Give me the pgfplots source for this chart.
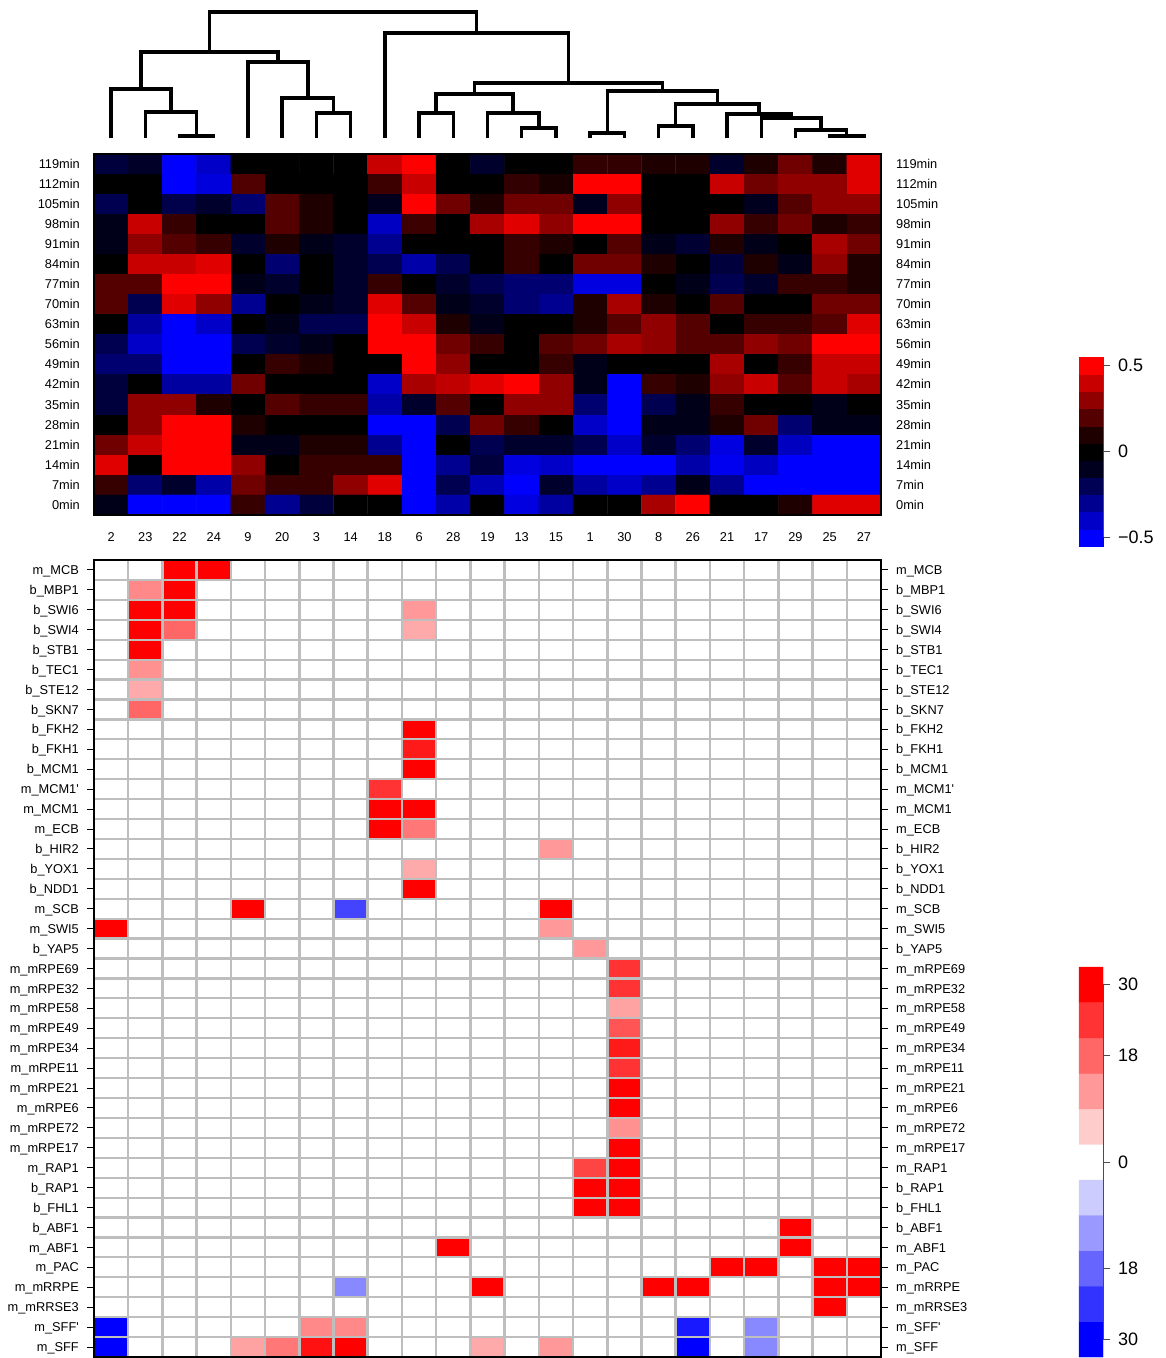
\documentclass[border=0pt]{standalone}
\usepackage{fontspec}
\setmainfont{Liberation Sans}
\usepackage{pgfplots}
\pgfplotsset{compat=1.18}
\definecolor{rgray}{RGB}{190,190,190}
\newcommand\lbl{\fontsize{12.8pt}{15pt}\selectfont}
\newcommand\cbl{\fontsize{18pt}{21pt}\selectfont}
\pgfplotsset{
  dg/.style={black, line width=3.4pt, mark=none, line join=miter},
  box/.style={scale only axis, anchor=north west, width=787pt, xmin=-0.5, xmax=22.5, y dir=reverse},
}
\begin{document}
\begin{tikzpicture}
\useasboundingbox (0pt,0pt) rectangle (1166pt,-1358pt);

% ---------- dendrogram ----------
\begin{axis}[at={(94pt,0pt)}, box, height=154pt, ymin=0, ymax=154, hide axis, clip=false]
\addplot[dg] coordinates {(2,138)(2,136)(3,136)(3,138)};
\addplot[dg] coordinates {(1,138)(1,112)(2.5,112)(2.5,136)};
\addplot[dg] coordinates {(0,138)(0,89)(1.75,89)(1.75,112)};
\addplot[dg] coordinates {(6,138)(6,113)(7,113)(7,138)};
\addplot[dg] coordinates {(5,138)(5,98)(6.5,98)(6.5,113)};
\addplot[dg] coordinates {(4,138)(4,62)(5.75,62)(5.75,98)};
\addplot[dg] coordinates {(0.875,89)(0.875,52)(4.875,52)(4.875,62)};
\addplot[dg] coordinates {(9,138)(9,113)(10,113)(10,138)};
\addplot[dg] coordinates {(12,138)(12,128)(13,128)(13,138)};
\addplot[dg] coordinates {(11,138)(11,113)(12.5,113)(12.5,128)};
\addplot[dg] coordinates {(9.5,113)(9.5,94)(11.75,94)(11.75,113)};
\addplot[dg] coordinates {(14,138)(14,133)(15,133)(15,138)};
\addplot[dg] coordinates {(16,138)(16,126)(17,126)(17,138)};
\addplot[dg] coordinates {(21,138)(21,136)(22,136)(22,138)};
\addplot[dg] coordinates {(20,138)(20,130)(21.5,130)(21.5,136)};
\addplot[dg] coordinates {(19,138)(19,118)(20.75,118)(20.75,130)};
\addplot[dg] coordinates {(18,138)(18,114)(19.875,114)(19.875,118)};
\addplot[dg] coordinates {(16.5,126)(16.5,104)(18.9375,104)(18.9375,114)};
\addplot[dg] coordinates {(14.5,133)(14.5,91)(17.71875,91)(17.71875,104)};
\addplot[dg] coordinates {(10.625,94)(10.625,83)(16.109,83)(16.109,91)};
\addplot[dg] coordinates {(8,138)(8,33)(13.367,33)(13.367,83)};
\addplot[dg] coordinates {(2.875,52)(2.875,12)(10.684,12)(10.684,33)};
\end{axis}

% ---------- top heatmap ----------
\begin{axis}[at={(94pt,-154pt)}, box, height=361pt, ymin=-0.5, ymax=17.5,
  axis on top, axis line style={line width=2.5pt},
  colormap={rbk}{rgb255=(0,0,255) rgb255=(0,0,0) rgb255=(255,0,0)},
  point meta min=-255, point meta max=255,
  xtick={0,...,22}, xticklabels={2,23,22,24,9,20,3,14,18,6,28,19,13,15,1,30,8,26,21,17,29,25,27},
  ytick={0,...,17}, yticklabels={119min,112min,105min,98min,91min,84min,77min,70min,63min,56min,49min,42min,35min,28min,21min,14min,7min,0min},
  major tick length=0pt, tick label style={font=\lbl, inner sep=0pt},
  yticklabel style={anchor=base east, xshift=-14pt, yshift=-4.3pt},
  xticklabel style={anchor=north, yshift=-17pt}]
\addplot[matrix plot*, mesh/cols=23, point meta=explicit]
 table[header=false, row sep=\\, x expr={\coordindex-23*floor((\coordindex+0.5)/23)}, y expr={floor((\coordindex+0.5)/23)}, meta index=0] {
-60\\ -40\\ -255\\ -200\\ 0\\  0\\ 0\\ 0\\ 200\\ 255\\  0\\ -45\\ 0\\ 0\\ 50\\  50\\ 30\\ 30\\ -45\\ 30\\  112\\ 30\\ 224\\
0\\ 0\\ -255\\ -220\\ 80\\  0\\ 0\\ 0\\ 60\\ 200\\  0\\ 0\\ 50\\ 25\\ 255\\  255\\ 0\\ 0\\ 200\\ 112\\  144\\ 144\\ 224\\
-80\\ 0\\ -75\\ -45\\ -112\\  85\\ 30\\ 0\\ -30\\ 255\\  112\\ 30\\ 112\\ 112\\ -30\\  144\\ 0\\ 0\\ 0\\ -30\\  85\\ 144\\ 144\\
-25\\ 200\\ 55\\ 0\\ 0\\  85\\ 30\\ 0\\ -195\\ 60\\  0\\ 168\\ 224\\ 144\\ 255\\  255\\ 0\\ 0\\ 144\\ 55\\  112\\ 30\\ 55\\
-25\\ 144\\ 85\\ 55\\ -45\\  30\\ -25\\ -45\\ -144\\ 0\\  0\\ 0\\ 55\\ 30\\ 0\\  85\\ -25\\ -50\\ 30\\ -25\\  0\\ 168\\ 112\\
0\\ 200\\ 200\\ 224\\ 0\\  -112\\ 0\\ -45\\ -80\\ -168\\  -80\\ 0\\ 55\\ 0\\ 112\\  112\\ 30\\ 0\\ -60\\ 30\\  -25\\ 144\\ 30\\
85\\ 85\\ 255\\ 255\\ -25\\  -45\\ 0\\ -45\\ 55\\ 0\\  -45\\ -80\\ -112\\ -112\\ -224\\  -224\\ 0\\ -25\\ -80\\ -45\\  55\\ 55\\ 30\\
85\\ -80\\ 224\\ 144\\ -144\\  0\\ -25\\ -45\\ 224\\ 85\\  -25\\ -45\\ -112\\ -144\\ 30\\  168\\ 30\\ 0\\ 85\\ 0\\  0\\ 112\\ 112\\
0\\ -160\\ -255\\ -200\\ 0\\  -25\\ -80\\ -80\\ 255\\ 200\\  30\\ -25\\ 0\\ 0\\ 30\\  85\\ 144\\ 85\\ 0\\ 55\\  55\\ 85\\ 224\\
-80\\ -200\\ -255\\ -255\\ -80\\  -45\\ -25\\ 0\\ 255\\ 255\\  112\\ 55\\ 0\\ 85\\ 112\\  168\\ 144\\ 85\\ 85\\ 144\\  112\\ 255\\ 255\\
-112\\ -112\\ -255\\ -255\\ 0\\  55\\ 30\\ 0\\ 0\\ 255\\  144\\ 0\\ 0\\ 55\\ -25\\  0\\ 0\\ 0\\ 168\\ 0\\  55\\ 200\\ 200\\
-60\\ 0\\ -160\\ -160\\ 112\\  0\\ 0\\ 0\\ -200\\ 168\\  192\\ 224\\ 255\\ 144\\ -25\\  -255\\ 55\\ 30\\ 144\\ 200\\  85\\ 200\\ 168\\
-60\\ 144\\ 144\\ 30\\ 0\\  85\\ 55\\ 55\\ -168\\ -45\\  85\\ 0\\ 144\\ 144\\ -112\\  -255\\ -80\\ -25\\ 55\\ 0\\  0\\ -25\\ 0\\
0\\ 144\\ 255\\ 255\\ 30\\  0\\ 0\\ 0\\ -255\\ -255\\  -80\\ 112\\ 55\\ 0\\ -200\\  -255\\ -25\\ -25\\ 30\\ 112\\  -112\\ -25\\ -25\\
112\\ 200\\ 255\\ 255\\ -25\\  -25\\ 30\\ 30\\ -144\\ -255\\  0\\ -80\\ -45\\ -45\\ -80\\  -200\\ -45\\ -112\\ -224\\ -45\\  -192\\ -255\\ -255\\
224\\ 0\\ 255\\ 255\\ 144\\  0\\ 55\\ 55\\ 55\\ -255\\  -144\\ -60\\ -224\\ -200\\ -255\\  -255\\ -255\\ -168\\ -240\\ -192\\  -255\\ -255\\ -255\\
55\\ -112\\ -45\\ -168\\ 112\\  55\\ 55\\ 144\\ 224\\ -255\\  -80\\ -180\\ -255\\ -45\\ -160\\  -200\\ -144\\ -25\\ -144\\ -255\\  -255\\ -255\\ -255\\
-25\\ -255\\ -255\\ -255\\ 55\\  -144\\ -60\\ 0\\ 0\\ -255\\  -168\\ 0\\ -224\\ -160\\ 0\\  0\\ 168\\ 255\\ 0\\ 0\\  30\\ 224\\ 224\\
};
\end{axis}
\begin{axis}[at={(94pt,-154pt)}, box, height=361pt, ymin=-0.5, ymax=17.5,
  hide x axis, axis y line*=right, y axis line style={draw=none},
  ytick={0,...,17}, yticklabels={119min,112min,105min,98min,91min,84min,77min,70min,63min,56min,49min,42min,35min,28min,21min,14min,7min,0min},
  major tick length=0pt, yticklabel style={font=\lbl, inner sep=0pt, anchor=base west, xshift=15pt, yshift=-4.3pt}]
\end{axis}

% ---------- bottom heatmap ----------
\begin{axis}[at={(94pt,-560pt)}, box, height=797pt, ymin=-0.5, ymax=39.5,
  axis on top, axis line style={line width=2.5pt},
  colormap={bwr}{rgb255=(0,0,255) rgb255=(255,255,255) rgb255=(255,0,0)},
  point meta min=-30, point meta max=30,
  xtick={0.5,1.5,...,21.5}, xticklabels={}, xtick pos=left, xmajorgrids,
  major grid style={rgray, line width=2.5pt},
  minor ytick={0.5,1.5,...,38.5}, yminorgrids, minor grid style={rgray, line width=2.2pt}, minor tick length=0pt,
  ytick={0,...,39}, ytick pos=left, tick align=outside, major tick length=7pt,
  major tick style={black, line width=1pt},
  yticklabels={m\_MCB,b\_MBP1,b\_SWI6,b\_SWI4,b\_STB1,b\_TEC1,b\_STE12,b\_SKN7,b\_FKH2,b\_FKH1,b\_MCM1,m\_MCM1\textquotesingle,m\_MCM1,m\_ECB,b\_HIR2,b\_YOX1,b\_NDD1,m\_SCB,m\_SWI5,b\_YAP5,m\_mRPE69,m\_mRPE32,m\_mRPE58,m\_mRPE49,m\_mRPE34,m\_mRPE11,m\_mRPE21,m\_mRPE6,m\_mRPE72,m\_mRPE17,m\_RAP1,b\_RAP1,b\_FHL1,b\_ABF1,m\_ABF1,m\_PAC,m\_mRRPE,m\_mRRSE3,m\_SFF\textquotesingle,m\_SFF},
  yticklabel style={font=\lbl, inner sep=0pt, anchor=base east, xshift=-8pt, yshift=-4.6pt}]
\addplot[matrix plot*, mesh/cols=23, point meta=explicit]
 table[header=false, row sep=\\, x expr={\coordindex-23*floor((\coordindex+0.5)/23)}, y expr={floor((\coordindex+0.5)/23)}, meta index=0] {
0\\ 0\\ 30\\ 30\\ 0\\  0\\ 0\\ 0\\ 0\\ 0\\  0\\ 0\\ 0\\ 0\\ 0\\  0\\ 0\\ 0\\ 0\\ 0\\  0\\ 0\\ 0\\
0\\ 14\\ 30\\ 0\\ 0\\  0\\ 0\\ 0\\ 0\\ 0\\  0\\ 0\\ 0\\ 0\\ 0\\  0\\ 0\\ 0\\ 0\\ 0\\  0\\ 0\\ 0\\
0\\ 30\\ 30\\ 0\\ 0\\  0\\ 0\\ 0\\ 0\\ 12\\  0\\ 0\\ 0\\ 0\\ 0\\  0\\ 0\\ 0\\ 0\\ 0\\  0\\ 0\\ 0\\
0\\ 30\\ 18\\ 0\\ 0\\  0\\ 0\\ 0\\ 0\\ 10\\  0\\ 0\\ 0\\ 0\\ 0\\  0\\ 0\\ 0\\ 0\\ 0\\  0\\ 0\\ 0\\
0\\ 30\\ 0\\ 0\\ 0\\  0\\ 0\\ 0\\ 0\\ 0\\  0\\ 0\\ 0\\ 0\\ 0\\  0\\ 0\\ 0\\ 0\\ 0\\  0\\ 0\\ 0\\
0\\ 13\\ 0\\ 0\\ 0\\  0\\ 0\\ 0\\ 0\\ 0\\  0\\ 0\\ 0\\ 0\\ 0\\  0\\ 0\\ 0\\ 0\\ 0\\  0\\ 0\\ 0\\
0\\ 10\\ 0\\ 0\\ 0\\  0\\ 0\\ 0\\ 0\\ 0\\  0\\ 0\\ 0\\ 0\\ 0\\  0\\ 0\\ 0\\ 0\\ 0\\  0\\ 0\\ 0\\
0\\ 18\\ 0\\ 0\\ 0\\  0\\ 0\\ 0\\ 0\\ 0\\  0\\ 0\\ 0\\ 0\\ 0\\  0\\ 0\\ 0\\ 0\\ 0\\  0\\ 0\\ 0\\
0\\ 0\\ 0\\ 0\\ 0\\  0\\ 0\\ 0\\ 0\\ 30\\  0\\ 0\\ 0\\ 0\\ 0\\  0\\ 0\\ 0\\ 0\\ 0\\  0\\ 0\\ 0\\
0\\ 0\\ 0\\ 0\\ 0\\  0\\ 0\\ 0\\ 0\\ 27\\  0\\ 0\\ 0\\ 0\\ 0\\  0\\ 0\\ 0\\ 0\\ 0\\  0\\ 0\\ 0\\
0\\ 0\\ 0\\ 0\\ 0\\  0\\ 0\\ 0\\ 0\\ 30\\  0\\ 0\\ 0\\ 0\\ 0\\  0\\ 0\\ 0\\ 0\\ 0\\  0\\ 0\\ 0\\
0\\ 0\\ 0\\ 0\\ 0\\  0\\ 0\\ 0\\ 24\\ 0\\  0\\ 0\\ 0\\ 0\\ 0\\  0\\ 0\\ 0\\ 0\\ 0\\  0\\ 0\\ 0\\
0\\ 0\\ 0\\ 0\\ 0\\  0\\ 0\\ 0\\ 30\\ 30\\  0\\ 0\\ 0\\ 0\\ 0\\  0\\ 0\\ 0\\ 0\\ 0\\  0\\ 0\\ 0\\
0\\ 0\\ 0\\ 0\\ 0\\  0\\ 0\\ 0\\ 30\\ 16\\  0\\ 0\\ 0\\ 0\\ 0\\  0\\ 0\\ 0\\ 0\\ 0\\  0\\ 0\\ 0\\
0\\ 0\\ 0\\ 0\\ 0\\  0\\ 0\\ 0\\ 0\\ 0\\  0\\ 0\\ 0\\ 12\\ 0\\  0\\ 0\\ 0\\ 0\\ 0\\  0\\ 0\\ 0\\
0\\ 0\\ 0\\ 0\\ 0\\  0\\ 0\\ 0\\ 0\\ 10\\  0\\ 0\\ 0\\ 0\\ 0\\  0\\ 0\\ 0\\ 0\\ 0\\  0\\ 0\\ 0\\
0\\ 0\\ 0\\ 0\\ 0\\  0\\ 0\\ 0\\ 0\\ 30\\  0\\ 0\\ 0\\ 0\\ 0\\  0\\ 0\\ 0\\ 0\\ 0\\  0\\ 0\\ 0\\
0\\ 0\\ 0\\ 0\\ 30\\  0\\ 0\\ -22\\ 0\\ 0\\  0\\ 0\\ 0\\ 30\\ 0\\  0\\ 0\\ 0\\ 0\\ 0\\  0\\ 0\\ 0\\
30\\ 0\\ 0\\ 0\\ 0\\  0\\ 0\\ 0\\ 0\\ 0\\  0\\ 0\\ 0\\ 12\\ 0\\  0\\ 0\\ 0\\ 0\\ 0\\  0\\ 0\\ 0\\
0\\ 0\\ 0\\ 0\\ 0\\  0\\ 0\\ 0\\ 0\\ 0\\  0\\ 0\\ 0\\ 0\\ 12\\  0\\ 0\\ 0\\ 0\\ 0\\  0\\ 0\\ 0\\
0\\ 0\\ 0\\ 0\\ 0\\  0\\ 0\\ 0\\ 0\\ 0\\  0\\ 0\\ 0\\ 0\\ 0\\  24\\ 0\\ 0\\ 0\\ 0\\  0\\ 0\\ 0\\
0\\ 0\\ 0\\ 0\\ 0\\  0\\ 0\\ 0\\ 0\\ 0\\  0\\ 0\\ 0\\ 0\\ 0\\  24\\ 0\\ 0\\ 0\\ 0\\  0\\ 0\\ 0\\
0\\ 0\\ 0\\ 0\\ 0\\  0\\ 0\\ 0\\ 0\\ 0\\  0\\ 0\\ 0\\ 0\\ 0\\  11\\ 0\\ 0\\ 0\\ 0\\  0\\ 0\\ 0\\
0\\ 0\\ 0\\ 0\\ 0\\  0\\ 0\\ 0\\ 0\\ 0\\  0\\ 0\\ 0\\ 0\\ 0\\  20\\ 0\\ 0\\ 0\\ 0\\  0\\ 0\\ 0\\
0\\ 0\\ 0\\ 0\\ 0\\  0\\ 0\\ 0\\ 0\\ 0\\  0\\ 0\\ 0\\ 0\\ 0\\  27\\ 0\\ 0\\ 0\\ 0\\  0\\ 0\\ 0\\
0\\ 0\\ 0\\ 0\\ 0\\  0\\ 0\\ 0\\ 0\\ 0\\  0\\ 0\\ 0\\ 0\\ 0\\  24\\ 0\\ 0\\ 0\\ 0\\  0\\ 0\\ 0\\
0\\ 0\\ 0\\ 0\\ 0\\  0\\ 0\\ 0\\ 0\\ 0\\  0\\ 0\\ 0\\ 0\\ 0\\  30\\ 0\\ 0\\ 0\\ 0\\  0\\ 0\\ 0\\
0\\ 0\\ 0\\ 0\\ 0\\  0\\ 0\\ 0\\ 0\\ 0\\  0\\ 0\\ 0\\ 0\\ 0\\  30\\ 0\\ 0\\ 0\\ 0\\  0\\ 0\\ 0\\
0\\ 0\\ 0\\ 0\\ 0\\  0\\ 0\\ 0\\ 0\\ 0\\  0\\ 0\\ 0\\ 0\\ 0\\  13\\ 0\\ 0\\ 0\\ 0\\  0\\ 0\\ 0\\
0\\ 0\\ 0\\ 0\\ 0\\  0\\ 0\\ 0\\ 0\\ 0\\  0\\ 0\\ 0\\ 0\\ 0\\  30\\ 0\\ 0\\ 0\\ 0\\  0\\ 0\\ 0\\
0\\ 0\\ 0\\ 0\\ 0\\  0\\ 0\\ 0\\ 0\\ 0\\  0\\ 0\\ 0\\ 0\\ 22\\  30\\ 0\\ 0\\ 0\\ 0\\  0\\ 0\\ 0\\
0\\ 0\\ 0\\ 0\\ 0\\  0\\ 0\\ 0\\ 0\\ 0\\  0\\ 0\\ 0\\ 0\\ 30\\  30\\ 0\\ 0\\ 0\\ 0\\  0\\ 0\\ 0\\
0\\ 0\\ 0\\ 0\\ 0\\  0\\ 0\\ 0\\ 0\\ 0\\  0\\ 0\\ 0\\ 0\\ 30\\  30\\ 0\\ 0\\ 0\\ 0\\  0\\ 0\\ 0\\
0\\ 0\\ 0\\ 0\\ 0\\  0\\ 0\\ 0\\ 0\\ 0\\  0\\ 0\\ 0\\ 0\\ 0\\  0\\ 0\\ 0\\ 0\\ 0\\  30\\ 0\\ 0\\
0\\ 0\\ 0\\ 0\\ 0\\  0\\ 0\\ 0\\ 0\\ 0\\  30\\ 0\\ 0\\ 0\\ 0\\  0\\ 0\\ 0\\ 0\\ 0\\  30\\ 0\\ 0\\
0\\ 0\\ 0\\ 0\\ 0\\  0\\ 0\\ 0\\ 0\\ 0\\  0\\ 0\\ 0\\ 0\\ 0\\  0\\ 0\\ 0\\ 30\\ 30\\  0\\ 30\\ 30\\
0\\ 0\\ 0\\ 0\\ 0\\  0\\ 0\\ -14\\ 0\\ 0\\  0\\ 30\\ 0\\ 0\\ 0\\  0\\ 30\\ 30\\ 0\\ 0\\  0\\ 30\\ 30\\
0\\ 0\\ 0\\ 0\\ 0\\  0\\ 0\\ 0\\ 0\\ 0\\  0\\ 0\\ 0\\ 0\\ 0\\  0\\ 0\\ 0\\ 0\\ 0\\  0\\ 30\\ 0\\
-30\\ 0\\ 0\\ 0\\ 0\\  0\\ 14\\ 14\\ 0\\ 0\\  0\\ 0\\ 0\\ 0\\ 0\\  0\\ 0\\ -27\\ 0\\ -14\\  0\\ 0\\ 0\\
-30\\ 0\\ 0\\ 0\\ 11\\  16\\ 28\\ 30\\ 0\\ 0\\  0\\ 10\\ 0\\ 12\\ 0\\  0\\ 0\\ -30\\ 0\\ -14\\  0\\ 0\\ 0\\
};
\end{axis}
\begin{axis}[at={(94pt,-560pt)}, box, height=797pt, ymin=-0.5, ymax=39.5,
  hide x axis, axis y line*=right, y axis line style={draw=none},
  ytick={0,...,39}, tick align=outside, major tick length=7pt,
  major tick style={black, line width=1pt},
  yticklabels={m\_MCB,b\_MBP1,b\_SWI6,b\_SWI4,b\_STB1,b\_TEC1,b\_STE12,b\_SKN7,b\_FKH2,b\_FKH1,b\_MCM1,m\_MCM1\textquotesingle,m\_MCM1,m\_ECB,b\_HIR2,b\_YOX1,b\_NDD1,m\_SCB,m\_SWI5,b\_YAP5,m\_mRPE69,m\_mRPE32,m\_mRPE58,m\_mRPE49,m\_mRPE34,m\_mRPE11,m\_mRPE21,m\_mRPE6,m\_mRPE72,m\_mRPE17,m\_RAP1,b\_RAP1,b\_FHL1,b\_ABF1,m\_ABF1,m\_PAC,m\_mRRPE,m\_mRRSE3,m\_SFF\textquotesingle,m\_SFF},
  yticklabel style={font=\lbl, inner sep=0pt, anchor=base west, xshift=8pt, yshift=-4.6pt}]
\end{axis}

% ---------- top colour key ----------
\begin{axis}[at={(1079pt,-357pt)}, scale only axis, anchor=north west, width=24pt, height=189pt,
  xmin=-0.5, xmax=1.5, ymin=-0.55, ymax=0.55, clip=false,
  axis x line=none, axis y line*=right, y axis line style={draw=none},
  ytick={-0.5,0,0.5}, yticklabels={−0.5,0,0.5}, tick align=outside, major tick length=7pt,
  major tick style={draw=black!70, line width=1pt},
  yticklabel style={font=\cbl, inner sep=0pt, anchor=west, xshift=8pt},
  colormap={rbk}{rgb255=(0,0,255) rgb255=(0,0,0) rgb255=(255,0,0)},
  point meta min=-255, point meta max=255]
\addplot[matrix plot*, mesh/cols=2, point meta=explicit] table[meta=c] {
x y c
0 -0.5 -255
1 -0.5 -255
0 -0.4 -200
1 -0.4 -200
0 -0.3 -144
1 -0.3 -144
0 -0.2 -85
1 -0.2 -85
0 -0.1 -30
1 -0.1 -30
0 0 0
1 0 0
0 0.1 30
1 0.1 30
0 0.2 85
1 0.2 85
0 0.3 144
1 0.3 144
0 0.4 200
1 0.4 200
0 0.5 255
1 0.5 255
};
\addplot[black!70, line width=1pt] coordinates {(1.5,-0.5) (1.5,0.5)};
\end{axis}

% ---------- bottom colour key ----------
\begin{axis}[at={(1079pt,-967pt)}, scale only axis, anchor=north west, width=24pt, height=390pt,
  xmin=-0.5, xmax=1.5, ymin=-33, ymax=33, clip=false,
  axis x line=none, axis y line*=right, y axis line style={draw=none},
  ytick={-30,-18,0,18,30}, yticklabels={30,18,0,18,30}, tick align=outside, major tick length=7pt,
  major tick style={draw=black!70, line width=1pt},
  yticklabel style={font=\cbl, inner sep=0pt, anchor=west, xshift=8pt},
  colormap={bwr}{rgb255=(0,0,255) rgb255=(255,255,255) rgb255=(255,0,0)},
  point meta min=-30, point meta max=30]
\addplot[matrix plot*, mesh/cols=2, point meta=explicit] table[meta=c] {
x y c
0 -30 -30
1 -30 -30
0 -24 -24
1 -24 -24
0 -18 -18
1 -18 -18
0 -12 -12
1 -12 -12
0 -6 -6
1 -6 -6
0 0 0
1 0 0
0 6 6
1 6 6
0 12 12
1 12 12
0 18 18
1 18 18
0 24 24
1 24 24
0 30 30
1 30 30
};
\addplot[black!70, line width=1pt] coordinates {(1.5,-30) (1.5,30)};
\end{axis}
\end{tikzpicture}
\end{document}
